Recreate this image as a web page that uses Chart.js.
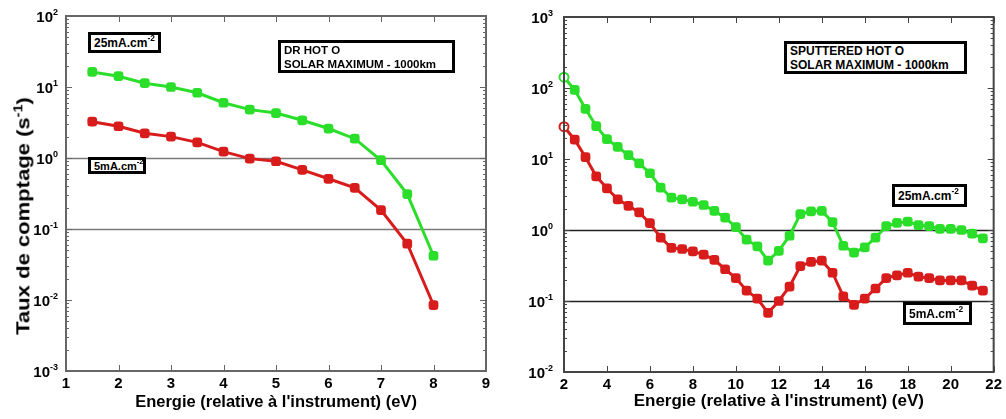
<!DOCTYPE html>
<html>
<head>
<meta charset="utf-8">
<script src="https://cdn.jsdelivr.net/npm/chart.js@4.4.1/dist/chart.umd.min.js"></script>
<style>
  body { margin: 0; background: #fff; font-family: "Liberation Sans", Arial, sans-serif; }
  #page { position: relative; width: 1006px; height: 419px; overflow: hidden; }
  .pane { position: absolute; top: 0; }
  .box { position: absolute; box-sizing: border-box; border: 3px solid #000; background: #fff;
         font-weight: bold; color: #000; white-space: nowrap; padding-left: 3px;
         display: flex; flex-direction: column; justify-content: center; }
  .box sup { font-size: 0.7em; line-height: 0; position: relative; top: -1px; }
  #ytitle { position: absolute; left: 23px; top: 216px; transform: translate(-50%, -50%) rotate(-90deg) scaleX(1.16);
            font-weight: bold; font-size: 19px; white-space: nowrap; color: #000; }
  #ytitle sup { font-size: 0.65em; }
</style>
</head>
<body>
<div id="page">
  <div class="pane" style="left:0"><canvas id="left" width="500" height="419"></canvas></div>
  <div class="pane" style="left:500px"><canvas id="right" width="506" height="419"></canvas></div>
  <div id="ytitle">Taux de comptage (s<sup>-1</sup>)</div>

  <div class="box" style="left:88px;top:32px;width:73px;height:21px;font-size:12px"><span>25mA.cm<sup>-2</sup></span></div>
  <div class="box" style="left:278px;top:40px;width:177px;height:33px;font-size:11.5px;line-height:14px">
    <div>DR HOT O</div><div>SOLAR MAXIMUM - 1000km</div></div>
  <div class="box" style="left:88px;top:157px;width:58px;height:17px;font-size:11px"><span>5mA.cm<sup>-2</sup></span></div>

  <div class="box" style="left:784px;top:41px;width:183px;height:33px;font-size:12px;line-height:14px">
    <div>SPUTTERED HOT O</div><div>SOLAR MAXIMUM - 1000km</div></div>
  <div class="box" style="left:892px;top:184px;width:75px;height:23px;font-size:12px"><span>25mA.cm<sup>-2</sup></span></div>
  <div class="box" style="left:903px;top:302px;width:69px;height:23px;font-size:12px"><span>5mA.cm<sup>-2</sup></span></div>
</div>
<script>
// DR hot O (left panel)
const leftEnergy = [1.5, 2, 2.5, 3, 3.5, 4, 4.5, 5, 5.5, 6, 6.5, 7, 7.5, 8];
const left25 = [16.3, 14.2, 11.3, 10, 8.3, 6.0, 4.8, 4.3, 3.4, 2.6, 1.87, 0.93, 0.31, 0.042];
const left5 = [3.25, 2.8, 2.23, 2.0, 1.66, 1.23, 0.98, 0.90, 0.68, 0.51, 0.38, 0.185, 0.062, 0.0085];

// sputtered hot O (right panel)
const rightEnergy = [2, 2.5, 3, 3.5, 4, 4.5, 5, 5.5, 6, 6.5, 7, 7.5, 8, 8.5, 9, 9.5, 10, 10.5, 11, 11.5,
                     12, 12.5, 13, 13.5, 14, 14.5, 15, 15.5, 16, 16.5, 17, 17.5, 18, 18.5, 19, 19.5, 20, 20.5, 21, 21.5];
const right25 = [142, 94, 51, 29, 19, 14.8, 11.3, 8.7, 6.3, 3.96, 2.85, 2.7, 2.5, 2.25, 1.86, 1.49, 1.1, 0.73, 0.59, 0.37,
                 0.51, 0.83, 1.67, 1.83, 1.86, 1.29, 0.6, 0.48, 0.57, 0.78, 1.13, 1.26, 1.31, 1.17, 1.13, 1.04, 1.04, 1.0, 0.89, 0.76];
const right5 = [28.5, 18.7, 10.6, 5.7, 3.87, 2.7, 2.19, 1.77, 1.25, 0.78, 0.56, 0.54, 0.50, 0.45, 0.38, 0.28, 0.21, 0.14, 0.108, 0.068,
                0.10, 0.16, 0.31, 0.355, 0.37, 0.25, 0.116, 0.088, 0.108, 0.15, 0.21, 0.23, 0.25, 0.22, 0.21, 0.195, 0.195, 0.195, 0.165, 0.14];

const GREEN = '#2ade2a';
const RED = '#d81c1c';
const FONT = '"Liberation Sans", Arial, sans-serif';

function series(xs, ys, color, firstOpen) {
    const open = i => firstOpen && i === 0;
    return {
        data: xs.map((x, i) => ({ x: x, y: ys[i] })),
        clip: false,
        borderColor: color,
        borderWidth: 3,
        tension: 0,
        pointStyle: xs.map((_, i) => open(i) ? 'circle' : 'rectRounded'),
        pointRadius: xs.map((_, i) => open(i) ? 4.5 : 4.8),
        pointBackgroundColor: xs.map((_, i) => open(i) ? '#fff' : color),
        pointBorderColor: color,
        pointBorderWidth: xs.map((_, i) => open(i) ? 2 : 1.5)
    };
}

// frame, inward ticks, reference lines and 10^n labels
const framePlugin = {
    id: 'frame',
    beforeDatasetsDraw(chart, args, o) {
        const { ctx, chartArea: a, scales: { y } } = chart;
        ctx.save();
        o.refLines.forEach(v => {
            const py = Math.round(y.getPixelForValue(v)) + 0.5;
            ctx.strokeStyle = o.refColor;
            ctx.lineWidth = 1.5;
            ctx.beginPath(); ctx.moveTo(a.left, py); ctx.lineTo(a.right, py); ctx.stroke();
        });
        ctx.restore();
    },
    afterDraw(chart, args, o) {
        const { ctx, chartArea: a, scales: { x, y } } = chart;
        ctx.save();
        ctx.strokeStyle = o.frameColor;
        ctx.lineWidth = 1;
        // y ticks (major + minor), both sides
        for (let e = o.minExp; e <= o.maxExp; e++) {
            for (let m = 1; m < 10; m++) {
                const v = m * Math.pow(10, e);
                if (e === o.maxExp && m > 1) break;
                const py = Math.round(y.getPixelForValue(v)) + 0.5;
                const len = m === 1 ? 6 : 3;
                ctx.beginPath();
                ctx.moveTo(a.left, py); ctx.lineTo(a.left + len, py);
                ctx.moveTo(a.right, py); ctx.lineTo(a.right - len, py);
                ctx.stroke();
            }
        }
        // x ticks top & bottom
        x.ticks.forEach(t => {
            const px = Math.round(x.getPixelForValue(t.value)) + 0.5;
            ctx.beginPath();
            ctx.moveTo(px, a.bottom); ctx.lineTo(px, a.bottom - 6);
            ctx.moveTo(px, a.top); ctx.lineTo(px, a.top + 6);
            ctx.stroke();
        });
        // frame
        ctx.lineWidth = 2;
        ctx.strokeRect(a.left, a.top, a.right - a.left, a.bottom - a.top);
        // y labels 10^n
        ctx.fillStyle = '#000';
        for (let e = o.minExp; e <= o.maxExp; e++) {
            const py = y.getPixelForValue(Math.pow(10, e));
            const exp = String(e);
            ctx.font = 'bold 9px ' + FONT;
            const ew = ctx.measureText(exp).width;
            const xr = a.left - o.labelGap;
            ctx.textAlign = 'left';
            ctx.textBaseline = 'alphabetic';
            ctx.fillText(exp, xr - ew, py - 1);
            ctx.font = 'bold 15px ' + FONT;
            ctx.textAlign = 'right';
            ctx.textBaseline = 'middle';
            ctx.fillText('10', xr - ew, py + 2);
        }
        ctx.restore();
    }
};

function makeChart(id, cfg) {
    return new Chart(document.getElementById(id), {
        type: 'line',
        data: { datasets: [series(cfg.xs, cfg.hi, GREEN, cfg.firstOpen), series(cfg.xs, cfg.lo, RED, cfg.firstOpen)] },
        options: {
            responsive: false,
            animation: false,
            events: [],
            layout: { padding: { top: cfg.padTop, right: cfg.padRight, left: 0, bottom: 0 } },
            plugins: {
                legend: { display: false },
                tooltip: { enabled: false },
                frame: cfg.frame
            },
            scales: {
                x: {
                    type: 'linear', min: cfg.xmin, max: cfg.xmax,
                    ticks: { stepSize: cfg.step, color: '#000', padding: 4, font: { family: FONT, size: 15, weight: 'bold' } },
                    grid: { display: false, drawTicks: false },
                    border: { display: false },
                    title: { display: true, text: "Energie (relative à l'instrument) (eV)", color: '#000', padding: 7,
                             font: { family: FONT, size: cfg.titleSize, weight: 'bold' } },
                    afterFit: s => { s.height = cfg.xHeight; }
                },
                y: {
                    type: 'logarithmic', min: cfg.ymin, max: cfg.ymax,
                    ticks: { display: false },
                    grid: { display: false },
                    border: { display: false },
                    afterFit: s => { s.width = cfg.yWidth; }
                }
            }
        },
        plugins: [framePlugin]
    });
}

makeChart('left', {
    xs: leftEnergy, hi: left25, lo: left5, firstOpen: false,
    xmin: 1, xmax: 9, step: 1, ymin: 1e-3, ymax: 1e2,
    padTop: 16, padRight: 14, xHeight: 48, yWidth: 66, titleSize: 16.5,
    frame: { minExp: -3, maxExp: 2, refLines: [1, 0.1], refColor: '#7a7a7a', frameColor: '#666', labelGap: 8 }
});

makeChart('right', {
    xs: rightEnergy, hi: right25, lo: right5, firstOpen: true,
    xmin: 2, xmax: 22, step: 2, ymin: 1e-2, ymax: 1e3,
    padTop: 17, padRight: 6, xHeight: 47, yWidth: 64, titleSize: 17,
    frame: { minExp: -2, maxExp: 3, refLines: [1, 0.1], refColor: '#222', frameColor: '#444', labelGap: 11 }
});
</script>
</body>
</html>
